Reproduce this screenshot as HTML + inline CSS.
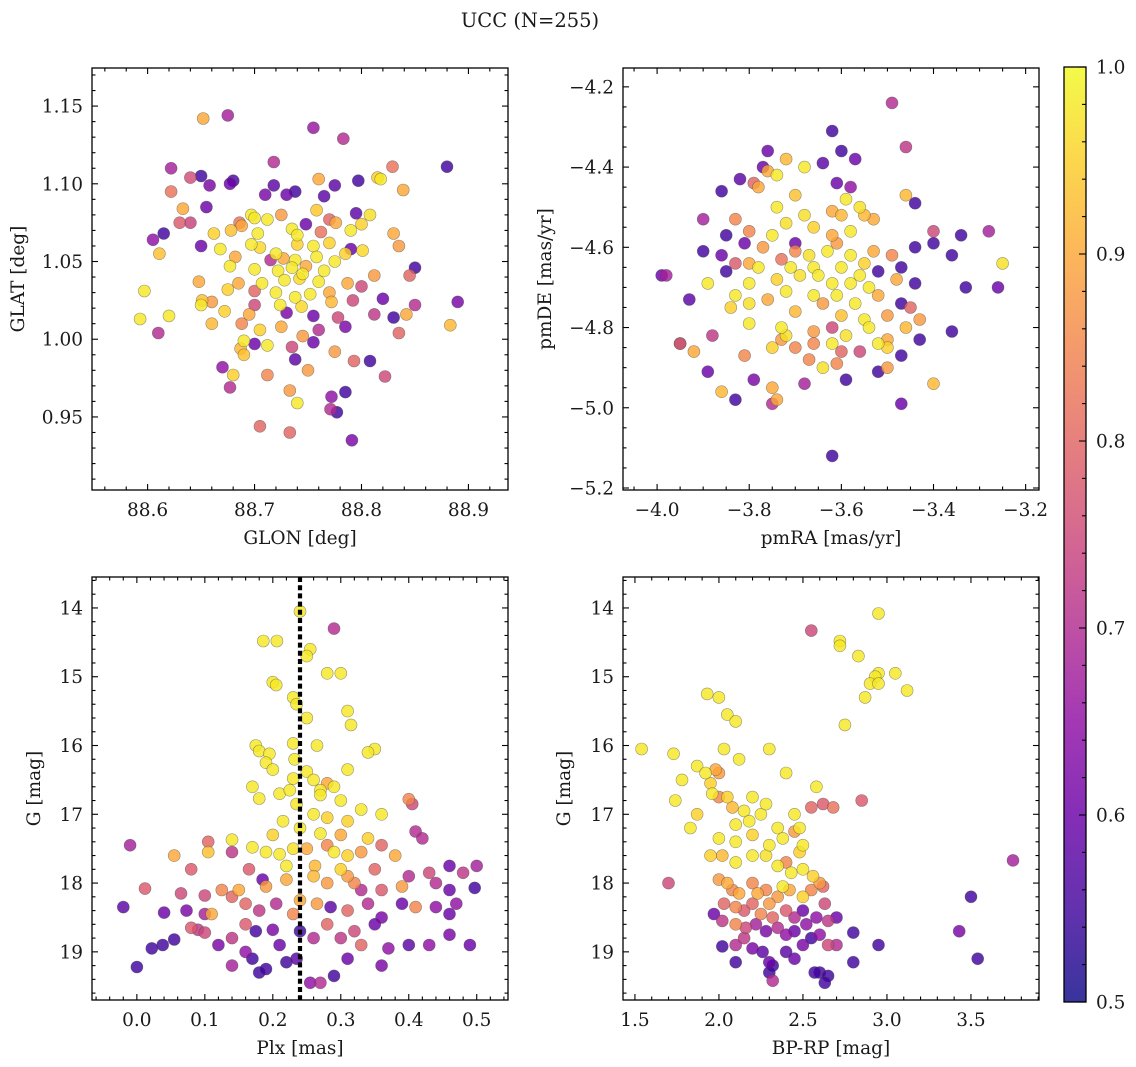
<!DOCTYPE html>
<html>
<head>
<meta charset="utf-8">
<style>
  html,body{margin:0;padding:0;background:#fff;}
  svg{display:block;font-family:"DejaVu Serif","Liberation Serif",serif;}
  text{fill:#1a1a1a;}
</style>
</head>
<body>
<svg id="fig" width="1136" height="1067" viewBox="0 0 1136 1067" xmlns="http://www.w3.org/2000/svg">
  <rect x="0" y="0" width="1136" height="1067" fill="#fff"/>
  <text x="530" y="27" font-size="19.5" text-anchor="middle">UCC (N=255)</text>
  <defs>
    <linearGradient id="cbgrad" x1="0" y1="1" x2="0" y2="0"></linearGradient>
  </defs>
</svg>
<script>
// ---------- Panel 1: GLON vs GLAT ----------
const glon = [88.652,88.675,88.755,88.783,88.718,88.88,88.622,88.829,88.650,88.640,88.680,88.677,88.658,88.718,88.738,88.775,88.760,88.797,88.818,88.815,88.622,88.710,88.730,88.765,88.839,88.633,88.655,88.697,88.700,88.712,88.725,88.758,88.795,88.808,88.630,88.640,88.686,88.688,88.735,88.748,88.776,88.800,88.770,88.615,88.662,88.678,88.703,88.740,88.762,88.790,88.830,88.605,88.650,88.697,88.705,88.720,88.740,88.755,88.770,88.790,88.801,88.835,88.611,88.668,88.682,88.715,88.727,88.738,88.748,88.758,88.775,88.785,88.850,88.677,88.700,88.722,88.735,88.745,88.765,88.812,88.845,88.648,88.685,88.707,88.728,88.742,88.760,88.787,88.800,88.675,88.700,88.720,88.738,88.752,88.770,88.792,88.820,88.890,88.597,88.651,88.660,88.700,88.724,88.744,88.772,88.850,88.593,88.620,88.650,88.672,88.695,88.730,88.755,88.778,88.812,88.830,88.842,88.610,88.660,88.688,88.705,88.725,88.745,88.760,88.785,88.835,88.883,88.690,88.700,88.687,88.712,88.735,88.755,88.775,88.690,88.738,88.793,88.808,88.670,88.680,88.712,88.750,88.822,88.677,88.733,88.785,88.740,88.772,88.771,88.777,88.705,88.733,88.791];
const glat = [1.142,1.144,1.136,1.129,1.114,1.111,1.110,1.111,1.105,1.104,1.102,1.100,1.099,1.099,1.095,1.099,1.103,1.102,1.103,1.104,1.095,1.093,1.093,1.092,1.096,1.084,1.085,1.080,1.078,1.077,1.080,1.083,1.081,1.080,1.075,1.075,1.075,1.073,1.071,1.074,1.075,1.074,1.077,1.068,1.068,1.070,1.068,1.067,1.069,1.070,1.068,1.064,1.060,1.061,1.059,1.055,1.061,1.060,1.062,1.058,1.057,1.060,1.055,1.058,1.053,1.051,1.052,1.051,1.047,1.053,1.050,1.055,1.046,1.047,1.045,1.044,1.046,1.042,1.044,1.041,1.041,1.037,1.036,1.036,1.038,1.039,1.037,1.036,1.034,1.032,1.031,1.030,1.027,1.029,1.030,1.025,1.026,1.024,1.031,1.025,1.024,1.022,1.022,1.021,1.024,1.022,1.013,1.015,1.022,1.018,1.016,1.017,1.015,1.014,1.016,1.014,1.016,1.004,1.010,1.010,1.006,1.008,1.002,1.006,1.008,1.004,1.009,0.999,0.997,0.994,0.996,0.995,0.998,0.992,0.990,0.987,0.986,0.986,0.982,0.977,0.977,0.980,0.976,0.969,0.967,0.966,0.959,0.963,0.955,0.953,0.944,0.940,0.935];
const prob1 = [0.9,0.68,0.66,0.7,0.7,0.55,0.68,0.82,0.55,0.76,0.56,0.6,0.62,0.58,0.55,0.58,0.9,0.55,0.98,0.95,0.82,0.62,0.6,0.58,0.9,0.9,0.6,0.98,0.98,0.98,0.88,0.94,0.58,0.97,0.78,0.74,0.82,0.9,0.98,0.6,0.9,0.95,0.8,0.55,0.95,0.93,0.98,0.98,0.82,0.98,0.9,0.65,0.6,0.98,0.96,0.98,0.95,0.98,0.95,0.6,0.96,0.88,0.93,0.98,0.9,0.7,0.9,0.98,0.9,0.98,0.98,0.95,0.55,0.98,0.98,0.98,0.98,0.98,0.98,0.88,0.8,0.9,0.9,0.98,0.98,0.96,0.98,0.9,0.75,0.95,0.8,0.98,0.98,0.98,0.9,0.75,0.6,0.62,0.98,0.93,0.88,0.75,0.98,0.96,0.92,0.7,0.98,0.98,0.98,0.95,0.9,0.62,0.6,0.75,0.72,0.55,0.9,0.7,0.92,0.85,0.95,0.9,0.88,0.7,0.62,0.8,0.92,0.98,0.6,0.92,0.98,0.75,0.6,0.88,0.93,0.58,0.8,0.55,0.65,0.95,0.85,0.88,0.75,0.7,0.88,0.55,0.98,0.65,0.7,0.55,0.8,0.8,0.62];
const p1XTicks = [88.6,88.7,88.8,88.9];
const p1XLabels = ["88.6","88.7","88.8","88.9"];
const p1YTicks = [1.15,1.10,1.05,1.00,0.95];
const p1YLabels = ["1.15","1.10","1.05","1.00","0.95"];

// ---------- Panel 2: pmRA vs pmDE ----------
const pmra = [-3.49,-3.62,-3.46,-3.76,-3.6,-3.57,-3.72,-3.64,-3.77,-3.82,-3.79,-3.78,-3.74,-3.76,-3.68,-3.61,-3.58,-3.86,-3.7,-3.46,-3.44,-3.59,-3.74,-3.56,-3.62,-3.83,-3.90,-3.68,-3.60,-3.55,-3.53,-3.66,-3.72,-3.80,-3.75,-3.85,-3.40,-3.34,-3.28,-3.62,-3.58,-3.70,-3.61,-3.81,-3.77,-3.44,-3.40,-3.86,-3.70,-3.63,-3.67,-3.58,-3.53,-3.49,-3.36,-3.9,-3.73,-3.83,-3.80,-3.55,-3.25,-3.47,-3.60,-3.66,-3.71,-3.78,-3.99,-3.98,-3.89,-3.93,-3.85,-3.52,-3.56,-3.65,-3.69,-3.74,-3.80,-3.62,-3.58,-3.48,-3.44,-3.33,-3.26,-3.72,-3.66,-3.61,-3.54,-3.52,-3.76,-3.83,-3.80,-3.64,-3.57,-3.47,-3.45,-3.84,-3.70,-3.60,-3.55,-3.50,-3.43,-3.80,-3.73,-3.66,-3.62,-3.54,-3.46,-3.36,-3.72,-3.59,-3.50,-3.95,-3.95,-3.88,-3.73,-3.66,-3.62,-3.52,-3.50,-3.43,-3.75,-3.70,-3.60,-3.56,-3.47,-3.92,-3.81,-3.67,-3.64,-3.61,-3.52,-3.5,-3.40,-3.89,-3.79,-3.75,-3.59,-3.68,-3.86,-3.74,-3.75,-3.47,-3.83,-3.62];
const pmde = [-4.24,-4.31,-4.35,-4.36,-4.36,-4.38,-4.38,-4.39,-4.40,-4.43,-4.44,-4.45,-4.42,-4.41,-4.40,-4.44,-4.45,-4.46,-4.47,-4.47,-4.49,-4.48,-4.50,-4.50,-4.51,-4.53,-4.53,-4.52,-4.52,-4.52,-4.53,-4.55,-4.54,-4.56,-4.57,-4.57,-4.56,-4.57,-4.56,-4.57,-4.56,-4.59,-4.59,-4.59,-4.60,-4.60,-4.59,-4.62,-4.61,-4.61,-4.62,-4.62,-4.61,-4.62,-4.62,-4.61,-4.63,-4.64,-4.64,-4.64,-4.64,-4.65,-4.65,-4.65,-4.65,-4.65,-4.67,-4.67,-4.69,-4.73,-4.66,-4.66,-4.67,-4.67,-4.67,-4.68,-4.69,-4.69,-4.69,-4.68,-4.69,-4.70,-4.70,-4.71,-4.72,-4.72,-4.70,-4.72,-4.73,-4.72,-4.74,-4.74,-4.74,-4.74,-4.75,-4.75,-4.76,-4.77,-4.78,-4.77,-4.78,-4.79,-4.80,-4.81,-4.80,-4.80,-4.80,-4.81,-4.82,-4.82,-4.83,-4.84,-4.84,-4.82,-4.83,-4.84,-4.84,-4.84,-4.85,-4.83,-4.85,-4.85,-4.86,-4.86,-4.87,-4.86,-4.87,-4.88,-4.90,-4.89,-4.91,-4.90,-4.94,-4.91,-4.93,-4.95,-4.93,-4.94,-4.96,-4.98,-4.99,-4.99,-4.98,-5.12];
const prob2 = [0.7,0.55,0.72,0.6,0.55,0.6,0.92,0.58,0.6,0.58,0.8,0.9,0.98,0.9,0.98,0.6,0.65,0.55,0.93,0.92,0.55,0.98,0.98,0.97,0.9,0.85,0.68,0.97,0.92,0.92,0.9,0.95,0.97,0.85,0.98,0.55,0.75,0.55,0.68,0.9,0.98,0.6,0.88,0.6,0.88,0.55,0.55,0.6,0.85,0.98,0.97,0.98,0.9,0.85,0.55,0.55,0.82,0.78,0.9,0.95,0.97,0.55,0.98,0.98,0.98,0.98,0.6,0.68,0.98,0.58,0.55,0.55,0.98,0.98,0.97,0.95,0.98,0.98,0.98,0.9,0.55,0.55,0.6,0.98,0.98,0.98,0.98,0.9,0.9,0.98,0.97,0.88,0.98,0.55,0.8,0.95,0.92,0.93,0.98,0.88,0.88,0.98,0.98,0.88,0.75,0.98,0.92,0.55,0.97,0.97,0.9,0.55,0.8,0.72,0.88,0.85,0.98,0.98,0.95,0.55,0.95,0.85,0.8,0.75,0.55,0.9,0.85,0.85,0.97,0.85,0.55,0.88,0.92,0.6,0.62,0.9,0.55,0.68,0.92,0.9,0.7,0.6,0.55,0.55];
const p2XTicks = [-4.0,-3.8,-3.6,-3.4,-3.2];
const p2XLabels = ["\u22124.0","\u22123.8","\u22123.6","\u22123.4","\u22123.2"];
const p2YTicks = [-4.2,-4.4,-4.6,-4.8,-5.0,-5.2];
const p2YLabels = ["\u22124.2","\u22124.4","\u22124.6","\u22124.8","\u22125.0","\u22125.2"];

// ---------- Panel 3: Plx vs G ----------
const plx = [0.240,0.290,0.255,0.25,0.186,0.206,0.28,0.30,0.20,0.205,0.23,0.235,0.31,0.315,0.25,0.23,0.175,0.18,0.195,0.265,0.35,0.34,0.19,0.232,0.20,0.25,0.31,0.23,0.26,0.28,0.29,0.17,0.21,0.225,0.27,0.27,0.18,0.30,0.235,0.33,0.36,0.4,0.405,0.26,0.28,0.215,0.31,0.14,0.20,0.24,0.27,0.30,0.34,0.41,0.42,0.105,0.105,0.17,0.19,0.21,0.23,0.25,0.28,0.29,0.31,0.33,0.36,0.38,-0.01,0.055,0.14,0.08,0.165,0.22,0.262,0.30,0.31,0.35,0.40,0.46,0.5,0.48,0.43,0.012,0.065,0.10,0.125,0.15,0.185,0.19,0.22,0.26,0.28,0.32,0.33,0.36,0.39,0.44,0.46,0.497,-0.02,0.04,0.073,0.10,0.11,0.14,0.16,0.18,0.205,0.23,0.24,0.265,0.285,0.31,0.34,0.36,0.39,0.41,0.44,0.46,0.47,0.08,0.09,0.10,0.12,0.14,0.16,0.175,0.2,0.21,0.24,0.26,0.28,0.3,0.32,0.33,0.35,0.37,0.4,0.43,0.46,0.49,0.022,0.038,0.055,0.0,0.14,0.16,0.18,0.19,0.22,0.235,0.255,0.27,0.29,0.31,0.36,0.17];
const gmag3 = [14.05,14.3,14.6,14.7,14.48,14.48,14.95,14.95,15.08,15.12,15.3,15.4,15.5,15.7,15.6,15.97,16.0,16.08,16.12,16.0,16.05,16.1,16.25,16.2,16.35,16.38,16.35,16.48,16.5,16.55,16.6,16.6,16.7,16.65,16.65,16.72,16.77,16.8,16.85,16.93,17.0,16.78,16.85,17.0,17.05,17.1,17.1,17.37,17.3,17.2,17.28,17.3,17.35,17.25,17.35,17.4,17.55,17.48,17.55,17.58,17.5,17.5,17.45,17.55,17.6,17.55,17.45,17.6,17.45,17.6,17.55,17.8,17.8,17.75,17.75,17.8,17.9,17.8,17.9,17.75,17.75,17.85,17.85,18.08,18.15,18.18,18.1,18.1,17.95,18.05,17.95,17.9,18.0,18.0,18.1,18.1,18.05,18.0,18.1,18.07,18.35,18.43,18.4,18.45,18.45,18.2,18.3,18.4,18.3,18.45,18.25,18.3,18.35,18.4,18.3,18.5,18.3,18.35,18.35,18.45,18.3,18.65,18.68,18.72,18.9,18.8,18.6,18.7,18.68,18.9,18.7,18.8,18.6,18.8,18.7,18.9,18.6,18.95,18.9,18.9,18.75,18.9,18.95,18.9,18.82,19.22,19.2,19.0,19.3,19.25,19.15,19.1,19.45,19.45,19.35,19.1,19.2,19.1];
const prob3 = [0.98,0.7,0.98,0.98,0.98,0.98,0.98,0.98,0.98,0.98,0.98,0.98,0.98,0.98,0.98,0.98,0.98,0.98,0.98,0.98,0.98,0.98,0.98,0.98,0.98,0.98,0.98,0.98,0.98,0.9,0.98,0.98,0.98,0.98,0.98,0.98,0.98,0.98,0.98,0.98,0.98,0.85,0.75,0.98,0.95,0.98,0.95,0.98,0.95,0.98,0.98,0.9,0.95,0.7,0.7,0.8,0.93,0.98,0.98,0.98,0.97,0.9,0.85,0.98,0.95,0.88,0.8,0.9,0.68,0.9,0.72,0.78,0.78,0.98,0.92,0.95,0.88,0.8,0.7,0.6,0.68,0.72,0.75,0.78,0.75,0.75,0.85,0.9,0.6,0.88,0.9,0.92,0.88,0.85,0.7,0.78,0.88,0.7,0.6,0.55,0.58,0.6,0.62,0.68,0.9,0.8,0.8,0.72,0.7,0.85,0.9,0.88,0.58,0.8,0.7,0.62,0.6,0.85,0.65,0.6,0.65,0.78,0.72,0.75,0.62,0.72,0.78,0.55,0.62,0.6,0.55,0.7,0.8,0.72,0.75,0.8,0.6,0.65,0.58,0.65,0.62,0.6,0.55,0.55,0.55,0.55,0.68,0.65,0.55,0.55,0.55,0.58,0.65,0.7,0.55,0.6,0.62,0.55];
const plxRef = [0.24];
const p3XTicks = [0.0,0.1,0.2,0.3,0.4,0.5];
const p3XLabels = ["0.0","0.1","0.2","0.3","0.4","0.5"];
const p3YTicks = [14,15,16,17,18,19];
const p3YLabels = ["14","15","16","17","18","19"];

// ---------- Panel 4: BP-RP vs G ----------
const bprp = [1.54,1.73,1.78,1.74,1.83,1.7,1.87,1.87,1.93,2.0,2.05,2.1,2.03,2.12,2.3,2.4,1.92,1.95,1.98,2.0,1.96,2.0,2.05,2.08,2.15,2.2,2.25,2.28,2.1,2.18,2.35,2.0,2.1,2.2,2.3,2.38,2.45,2.48,2.5,1.95,2.02,2.1,2.2,2.28,2.35,2.4,2.43,2.5,2.56,2.6,2.0,2.05,2.08,2.12,2.2,2.23,2.28,2.35,2.38,2.42,2.5,2.55,2.62,2.63,2.03,2.1,2.15,2.2,2.25,2.3,2.32,2.4,2.45,2.5,2.52,2.58,2.65,2.7,1.97,2.02,2.1,2.16,2.22,2.28,2.35,2.4,2.45,2.5,2.55,2.6,2.65,2.7,2.8,2.95,2.02,2.1,2.15,2.2,2.26,2.3,2.32,2.4,2.45,2.6,2.65,2.57,2.63,2.3,2.32,2.8,2.1,2.55,2.72,2.72,2.83,2.95,2.95,2.93,2.9,2.95,3.05,3.12,2.87,2.75,2.62,2.55,2.68,2.85,3.43,3.5,3.54,3.75,2.58,2.45,2.48];
const gmag4 = [16.05,16.12,16.5,16.8,17.2,18.0,16.3,17.0,15.25,15.3,15.55,15.65,16.05,16.2,16.05,16.4,16.4,16.55,16.35,16.4,16.7,16.75,16.75,16.9,16.95,16.75,17.0,16.85,17.15,17.1,17.2,17.35,17.4,17.3,17.45,17.35,17.25,17.55,17.45,17.6,17.6,17.7,17.6,17.6,17.75,17.7,17.85,17.8,17.9,18.0,17.95,18.0,18.1,18.15,18.0,18.15,18.1,18.2,18.05,18.1,18.2,18.1,18.05,18.3,18.3,18.35,18.4,18.3,18.45,18.3,18.5,18.4,18.5,18.4,18.6,18.5,18.55,18.5,18.45,18.55,18.6,18.65,18.6,18.7,18.65,18.75,18.7,18.9,18.8,18.75,18.9,18.9,18.72,18.9,18.92,18.9,18.8,18.95,19.0,19.15,19.2,19.0,19.1,19.3,19.35,19.3,19.45,19.3,19.42,19.15,19.15,14.33,14.48,14.55,14.7,14.08,14.95,15.0,15.1,15.1,14.95,15.2,15.3,15.7,16.85,16.9,16.9,16.8,18.7,18.2,19.1,17.67,16.6,17.0,17.2];
const prob4 = [0.98,0.98,0.98,0.98,0.98,0.75,0.98,0.95,0.98,0.98,0.98,0.98,0.98,0.98,0.98,0.98,0.98,0.95,0.9,0.88,0.98,0.85,0.95,0.92,0.98,0.98,0.98,0.98,0.98,0.98,0.98,0.98,0.98,0.95,0.98,0.98,0.88,0.95,0.98,0.95,0.92,0.98,0.98,0.97,0.98,0.85,0.98,0.98,0.95,0.88,0.88,0.9,0.85,0.9,0.85,0.9,0.85,0.88,0.98,0.9,0.95,0.85,0.8,0.75,0.8,0.85,0.78,0.8,0.85,0.88,0.8,0.78,0.7,0.6,0.65,0.65,0.72,0.6,0.6,0.72,0.85,0.75,0.68,0.62,0.7,0.65,0.6,0.62,0.55,0.65,0.75,0.7,0.55,0.55,0.55,0.7,0.72,0.62,0.58,0.6,0.55,0.58,0.6,0.55,0.55,0.55,0.55,0.55,0.7,0.55,0.55,0.75,0.98,0.98,0.98,0.98,0.98,0.98,0.98,0.98,0.98,0.98,0.98,0.98,0.78,0.8,0.82,0.78,0.62,0.55,0.55,0.68,0.98,0.98,0.98];
const p4XTicks = [1.5,2.0,2.5,3.0,3.5];
const p4XLabels = ["1.5","2.0","2.5","3.0","3.5"];
const p4YTicks = [14,15,16,17,18,19];
const p4YLabels = ["14","15","16","17","18","19"];

// ---------- Colorbar ----------
const cbTicks = [0.5,0.6,0.7,0.8,0.9,1.0];
const cbLabels = ["0.5","0.6","0.7","0.8","0.9","1.0"];

const NS = "http://www.w3.org/2000/svg";
const svg = document.getElementById('fig');
const FS = 18.5;
const plasma = [[13,8,135],[65,4,157],[106,0,168],[143,13,164],[177,42,144],[204,71,120],[225,100,98],[242,132,75],[252,166,54],[252,206,37],[240,249,33]];
function cmap(t){
  t = Math.max(0, Math.min(1, t));
  const s = t*10, i = Math.min(9, Math.floor(s)), f = s - i;
  const a = plasma[i], b = plasma[i+1];
  return 'rgb(' + [0,1,2].map(k => Math.round(a[k] + (b[k]-a[k])*f)).join(',') + ')';
}
function pcolor(p){ return cmap((p-0.5)/0.5); }
function mk(tag, attrs, parent){
  const e = document.createElementNS(NS, tag);
  for (const k in attrs) e.setAttribute(k, attrs[k]);
  (parent || svg).appendChild(e);
  return e;
}
function range(lo, hi, step){
  const out = [];
  const s = Math.ceil(lo/step - 1e-9);
  for (let i = s; i*step <= hi + 1e-9; i++) out.push(+(i*step).toFixed(6));
  return out;
}

function panel(cfg){
  const g = mk('g', {});
  
  
  const L = cfg.box[0], T = cfg.box[1], R = cfg.box[2], B = cfg.box[3];
  const sx = v => L + (v - cfg.xlim[0]) / (cfg.xlim[1] - cfg.xlim[0]) * (R - L);
  const sy = cfg.invertY
    ? (v => T + (v - cfg.ylim[0]) / (cfg.ylim[1] - cfg.ylim[0]) * (B - T))
    : (v => T + (cfg.ylim[1] - v) / (cfg.ylim[1] - cfg.ylim[0]) * (B - T));
  const cid = 'clip-' + cfg.name;
  const cp = mk('clipPath', {id: cid}, g);
  mk('rect', {x: L, y: T, width: R-L, height: B-T}, cp);
  const pts = mk('g', {'clip-path': 'url(#' + cid + ')'}, g);
  
  
  const idx = cfg.xs.map((_, i) => i).sort((a, b) => cfg.ps[a] - cfg.ps[b]);
  idx.forEach(i => {
    const c = mk('circle', {cx: sx(cfg.xs[i]).toFixed(1), cy: sy(cfg.ys[i]).toFixed(1), r: 6,
      fill: pcolor(cfg.ps[i]), 'fill-opacity': 0.82, stroke: 'rgba(70,70,70,0.55)', 'stroke-width': 0.6}, pts);
    
    
  });
  if (cfg.vline){
    cfg.vline.forEach(v => {
      const l = mk('line', {x1: sx(v), x2: sx(v), y1: T, y2: B, stroke: '#000', 'stroke-width': 4.2, 'stroke-dasharray': '5 3.2'}, pts);
      
      
    });
  }
  const tk = mk('g', {stroke: '#000', 'stroke-width': 1.1}, g);
  
  
  range(cfg.xlim[0], cfg.xlim[1], cfg.xminor).forEach(v => {
    const major = cfg.xticks.some(t => Math.abs(t - v) < 1e-6);
    const len = major ? 6 : 3.5, x = sx(v);
    mk('line', {x1: x, x2: x, y1: B, y2: B - len}, tk);
    mk('line', {x1: x, x2: x, y1: T, y2: T + len}, tk);
  });
  range(cfg.ylim[0], cfg.ylim[1], cfg.yminor).forEach(v => {
    const major = cfg.yticks.some(t => Math.abs(t - v) < 1e-6);
    const len = major ? 6 : 3.5, y = sy(v);
    mk('line', {x1: L, x2: L + len, y1: y, y2: y}, tk);
    mk('line', {x1: R, x2: R - len, y1: y, y2: y}, tk);
  });
  const frame = mk('rect', {x: L, y: T, width: R-L, height: B-T, fill: 'none', stroke: '#000', 'stroke-width': 1.3}, g);
  
  
  cfg.xticks.forEach((v, i) => {
    const t = mk('text', {x: sx(v), y: B + 26, 'font-size': FS, 'text-anchor': 'middle'}, g);
    t.textContent = cfg.xlabels[i];
    
    
  });
  cfg.yticks.forEach((v, i) => {
    const t = mk('text', {x: L - 9, y: sy(v) + 6.5, 'font-size': FS, 'text-anchor': 'end'}, g);
    t.textContent = cfg.ylabels[i];
    
    
  });
  const xt = mk('text', {x: (L + R)/2, y: B + 54, 'font-size': FS, 'text-anchor': 'middle'}, g);
  xt.textContent = cfg.xtitle;
  
  
  const ytx = cfg.ytitleX, yty = (T + B)/2;
  const yt = mk('text', {x: ytx, y: yty, 'font-size': FS, 'text-anchor': 'middle', transform: 'rotate(-90 ' + ytx + ' ' + yty + ')'}, g);
  yt.textContent = cfg.ytitle;
  
  
}

panel({name: 'glon-glat-panel', box: [92, 68, 508, 490], xs: glon, ys: glat, ps: prob1,
  xlim: [88.548, 88.937], ylim: [0.903, 1.1745], xticks: p1XTicks, xlabels: p1XLabels, yticks: p1YTicks, ylabels: p1YLabels,
  xminor: 0.02, yminor: 0.01, xtitle: 'GLON [deg]', ytitle: 'GLAT [deg]', ytitleX: 24});
panel({name: 'pm-panel', box: [623, 68, 1039, 490], xs: pmra, ys: pmde, ps: prob2,
  xlim: [-4.074, -3.171], ylim: [-5.205, -4.153], xticks: p2XTicks, xlabels: p2XLabels, yticks: p2YTicks, ylabels: p2YLabels,
  xminor: 0.05, yminor: 0.05, xtitle: 'pmRA [mas/yr]', ytitle: 'pmDE [mas/yr]', ytitleX: 551});
panel({name: 'plx-g-panel', box: [92, 577, 508, 1000], xs: plx, ys: gmag3, ps: prob3, vline: plxRef,
  xlim: [-0.066, 0.546], ylim: [13.55, 19.70], xticks: p3XTicks, xlabels: p3XLabels, yticks: p3YTicks, ylabels: p3YLabels,
  xminor: 0.02, yminor: 0.2, xtitle: 'Plx [mas]', ytitle: 'G [mag]', ytitleX: 40, invertY: true});
panel({name: 'cmd-panel', box: [623, 577, 1039, 1000], xs: bprp, ys: gmag4, ps: prob4,
  xlim: [1.429, 3.905], ylim: [13.55, 19.70], xticks: p4XTicks, xlabels: p4XLabels, yticks: p4YTicks, ylabels: p4YLabels,
  xminor: 0.1, yminor: 0.2, xtitle: 'BP-RP [mag]', ytitle: 'G [mag]', ytitleX: 570, invertY: true});

// Colorbar
(function(){
  const grad = document.getElementById('cbgrad');
  for (let i = 0; i <= 10; i++) {
    mk('stop', {offset: (i/10), 'stop-color': cmap(i/10), 'stop-opacity': 0.82}, grad);
  }
  const L = 1064, R = 1086, T = 67, B = 1002;
  const cb = mk('g', {});
  
  
  mk('rect', {x: L, y: T, width: R-L, height: B-T, fill: 'url(#cbgrad)'}, cb);
  const sy = v => B - (v - 0.5)/0.5 * (B - T);
  range(0.5, 1.0, 0.02).forEach(v => {
    const major = cbTicks.some(t => Math.abs(t - v) < 1e-6);
    mk('line', {x1: R, x2: R - (major ? 7 : 4), y1: sy(v), y2: sy(v), stroke: '#000', 'stroke-width': 1.1}, cb);
  });
  mk('rect', {x: L, y: T, width: R-L, height: B-T, fill: 'none', stroke: '#000', 'stroke-width': 1.3}, cb);
  cbTicks.forEach((v, i) => {
    const t = mk('text', {x: R + 10, y: sy(v) + 6.5, 'font-size': FS}, cb);
    t.textContent = cbLabels[i];
    
    
  });
})();
</script>
</body>
</html>
